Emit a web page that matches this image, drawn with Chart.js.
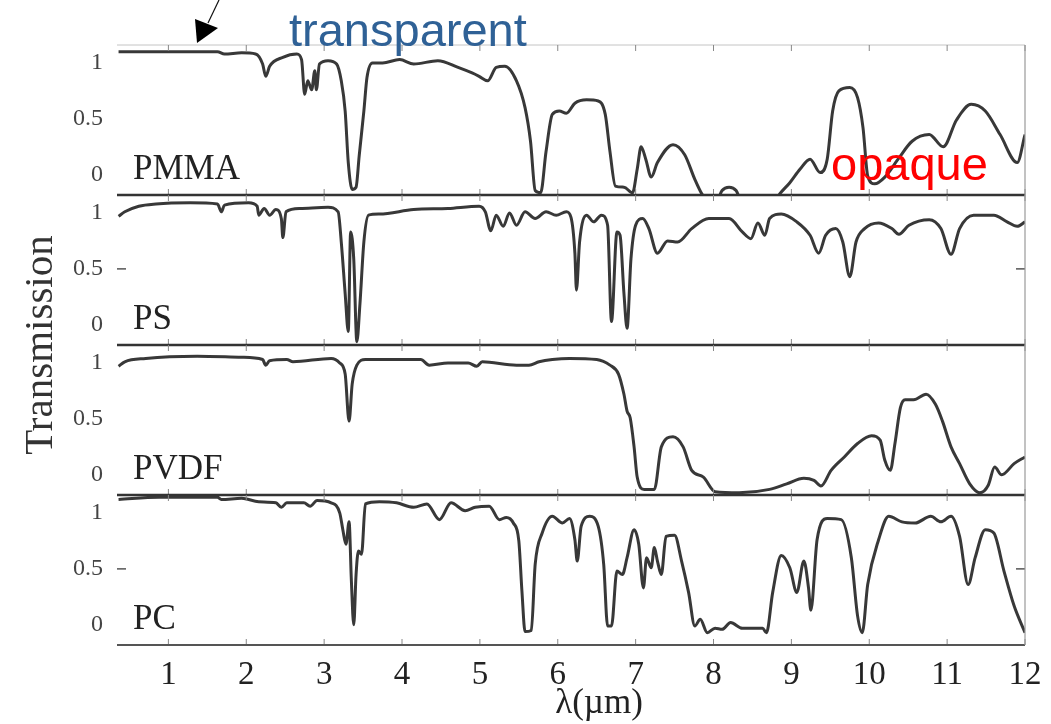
<!DOCTYPE html>
<html>
<head>
<meta charset="utf-8">
<script src="https://cdn.jsdelivr.net/npm/chart.js@4.4.1/dist/chart.umd.min.js"></script>
<style>
  html, body { margin: 0; padding: 0; background: #fff; }
</style>
</head>
<body>
<canvas id="spectraChart" width="1051" height="724"></canvas>
<script>
// wavelength (um) and transmission, one pair of arrays per polymer
var pmmaX = [0.36, 1.63, 1.72, 1.94, 2.12, 2.21, 2.25, 2.30, 2.47, 2.65, 2.71, 2.75, 2.79, 2.84, 2.88, 2.90, 2.94, 3.05, 3.16, 3.22,
  3.27, 3.31, 3.36, 3.41, 3.45, 3.51, 3.55, 3.62, 3.75, 3.97, 4.15, 4.46, 4.72, 4.90, 4.99, 5.10, 5.21, 5.32, 5.47, 5.58,
  5.65, 5.71, 5.78, 5.85, 5.93, 6.02, 6.11, 6.22, 6.37, 6.52, 6.61, 6.67, 6.74, 6.85, 6.96, 7.02, 7.07, 7.13, 7.20, 7.28,
  7.48, 7.63, 7.76, 7.85, 8.00, 8.11, 8.20, 8.29, 8.40, 8.72, 8.85, 8.98, 9.11, 9.24, 9.37, 9.46, 9.53, 9.61, 9.75, 9.85,
  9.92, 9.98, 10.07, 10.20, 10.37, 10.55, 10.77, 10.95, 11.12, 11.31, 11.49, 11.68, 11.90, 12.0];
var pmmaT = [1.10, 1.10, 1.08, 1.09, 1.08, 0.99, 0.88, 0.97, 1.05, 1.08, 1.03, 0.72, 0.84, 0.76, 0.93, 0.76, 0.99, 1.02, 0.99, 0.84,
  0.57, 0.11, -0.13, -0.11, 0.17, 0.57, 0.87, 1.00, 1.00, 1.03, 0.99, 1.02, 0.96, 0.91, 0.88, 0.84, 0.96, 0.97, 0.84, 0.60,
  0.30, -0.14, -0.16, 0.21, 0.54, 0.57, 0.55, 0.64, 0.67, 0.66, 0.54, 0.21, -0.10, -0.11, -0.16, 0.05, 0.25, 0.14, -0.02, 0.11,
  0.27, 0.18, -0.04, -0.17, -0.30, -0.14, -0.11, -0.14, -0.30, -0.30, -0.17, -0.07, 0.05, 0.14, 0.02, 0.14, 0.57, 0.75, 0.78, 0.69,
  0.42, -0.01, -0.08, -0.02, 0.14, 0.30, 0.36, 0.25, 0.49, 0.63, 0.57, 0.36, 0.11, 0.36];

var psX = [0.36, 0.44, 0.62, 0.84, 1.28, 1.63, 1.68, 1.72, 2.03, 2.14, 2.16, 2.23, 2.30, 2.38, 2.45, 2.47, 2.51, 2.69, 3.05, 3.18,
  3.22, 3.27, 3.31, 3.34, 3.38, 3.42, 3.46, 3.51, 3.57, 3.71, 4.15, 4.59, 4.99, 5.07, 5.14, 5.21, 5.30, 5.38, 5.47, 5.58,
  5.71, 5.85, 5.98, 6.11, 6.17, 6.22, 6.24, 6.28, 6.37, 6.46, 6.56, 6.64, 6.69, 6.76, 6.80, 6.85, 6.89, 6.94, 7.00, 7.09,
  7.17, 7.28, 7.41, 7.54, 7.72, 7.94, 8.20, 8.37, 8.48, 8.57, 8.66, 8.72, 8.87, 9.07, 9.24, 9.35, 9.44, 9.57, 9.66, 9.75,
  9.83, 9.94, 10.12, 10.29, 10.38, 10.51, 10.77, 10.92, 11.05, 11.16, 11.34, 11.60, 11.77, 11.90, 12.0];
var psT = [0.97, 1.01, 1.06, 1.08, 1.09, 1.08, 1.01, 1.07, 1.09, 1.06, 0.98, 1.04, 0.98, 1.03, 0.95, 0.78, 1.01, 1.04, 1.05, 1.01,
  0.74, 0.28, -0.06, 0.83, 0.59, -0.15, 0.19, 0.74, 0.98, 0.99, 1.03, 1.04, 1.06, 1.01, 0.84, 0.98, 0.88, 1.00, 0.89, 1.01,
  0.95, 1.01, 0.98, 1.01, 0.96, 0.64, 0.31, 0.74, 0.98, 0.92, 0.98, 0.89, 0.03, 0.83, 0.80, 0.28, -0.03, 0.59, 0.89, 0.95,
  0.86, 0.64, 0.75, 0.74, 0.86, 0.95, 0.95, 0.83, 0.77, 0.91, 0.80, 0.95, 0.99, 0.92, 0.80, 0.64, 0.80, 0.86, 0.74, 0.43,
  0.74, 0.86, 0.91, 0.86, 0.81, 0.89, 0.94, 0.86, 0.63, 0.86, 0.98, 0.98, 0.92, 0.88, 0.92];

var pvdfX = [0.36, 0.44, 0.71, 1.37, 1.94, 2.21, 2.25, 2.30, 2.52, 2.60, 3.09, 3.20, 3.27, 3.32, 3.36, 3.42, 3.53, 4.24, 4.35, 4.59,
  4.85, 4.96, 5.03, 5.47, 5.63, 5.76, 5.93, 6.15, 6.50, 6.67, 6.78, 6.85, 6.89, 6.93, 6.98, 7.02, 7.11, 7.24, 7.33, 7.48,
  7.61, 7.72, 7.87, 8.02, 8.33, 8.72, 8.94, 9.16, 9.29, 9.38, 9.51, 9.68, 9.85, 10.03, 10.14, 10.20, 10.27, 10.33, 10.40, 10.46,
  10.57, 10.73, 10.85, 10.94, 11.05, 11.16, 11.29, 11.42, 11.53, 11.61, 11.70, 11.86, 12.0];
var pvdfT = [0.97, 1.01, 1.04, 1.06, 1.05, 1.03, 0.98, 1.02, 1.03, 1.01, 1.04, 1.00, 0.90, 0.48, 0.81, 0.98, 1.03, 1.03, 0.98, 1.00,
  1.00, 0.97, 1.01, 0.98, 0.98, 1.01, 1.03, 1.04, 1.03, 0.98, 0.90, 0.72, 0.57, 0.51, 0.25, -0.02, -0.13, -0.13, 0.25, 0.34,
  0.25, 0.04, -0.02, -0.15, -0.16, -0.13, -0.08, -0.03, -0.05, -0.10, 0.04, 0.16, 0.28, 0.35, 0.31, 0.13, 0.04, 0.28, 0.60, 0.67,
  0.67, 0.72, 0.63, 0.48, 0.25, 0.10, -0.08, -0.16, -0.09, 0.07, 0.00, 0.10, 0.16];

var pcX = [0.36, 0.88, 1.63, 1.68, 1.94, 2.16, 2.38, 2.45, 2.52, 2.74, 2.82, 2.91, 3.09, 3.20, 3.24, 3.28, 3.32, 3.35, 3.38, 3.41,
  3.44, 3.48, 3.53, 3.71, 3.93, 4.15, 4.32, 4.48, 4.63, 4.81, 4.94, 5.12, 5.25, 5.34, 5.43, 5.50, 5.54, 5.58, 5.66, 5.71,
  5.80, 5.93, 6.06, 6.15, 6.22, 6.25, 6.30, 6.41, 6.52, 6.59, 6.64, 6.69, 6.76, 6.83, 6.89, 6.98, 7.04, 7.10, 7.14, 7.20,
  7.24, 7.28, 7.33, 7.39, 7.50, 7.59, 7.68, 7.76, 7.83, 7.92, 8.02, 8.11, 8.22, 8.37, 8.63, 8.68, 8.76, 8.87, 8.98, 9.07,
  9.16, 9.22, 9.25, 9.33, 9.46, 9.64, 9.77, 9.85, 9.91, 9.98, 10.12, 10.25, 10.42, 10.59, 10.79, 10.92, 11.05, 11.16, 11.27, 11.36,
  11.49, 11.60, 11.73, 11.86, 12.0];
var pcT = [1.12, 1.14, 1.14, 1.12, 1.13, 1.10, 1.09, 1.05, 1.09, 1.09, 1.06, 1.11, 1.09, 1.00, 0.85, 0.72, 0.92, 0.39, 0.00, 0.45,
  0.66, 0.63, 1.08, 1.10, 1.09, 1.05, 1.08, 0.94, 1.09, 1.02, 1.05, 1.06, 0.94, 0.96, 0.91, 0.75, 0.30, -0.06, -0.05, 0.54,
  0.82, 0.97, 0.91, 0.95, 0.76, 0.57, 0.88, 0.97, 0.88, 0.54, -0.01, -0.01, 0.48, 0.45, 0.60, 0.85, 0.72, 0.33, 0.60, 0.51,
  0.69, 0.57, 0.45, 0.79, 0.80, 0.57, 0.29, -0.01, 0.05, -0.07, -0.03, -0.04, 0.02, -0.03, -0.03, -0.07, 0.29, 0.62, 0.51, 0.29,
  0.57, 0.33, 0.13, 0.76, 0.95, 0.94, 0.60, 0.08, -0.07, 0.36, 0.76, 0.97, 0.92, 0.91, 0.97, 0.92, 0.97, 0.79, 0.36, 0.60,
  0.85, 0.82, 0.48, 0.17, -0.07];

var materials = ['PMMA', 'PS', 'PVDF', 'PC'];
var xTicks = [1, 2, 3, 4, 5, 6, 7, 8, 9, 10, 11, 12];
var yTicks = [0, 0.5, 1];
var dashedPanels = ['PS', 'PC']; // panels whose 0.5 tick mark is visible

var seriesX = { PMMA: pmmaX, PS: psX, PVDF: pvdfX, PC: pcX };
var seriesT = { PMMA: pmmaT, PS: psT, PVDF: pvdfT, PC: pcT };

function points(name) {
  return seriesX[name].map(function (x, i) { return { x: x, y: seriesT[name][i] }; });
}

function panelAxis() {
  return {
    type: 'linear',
    position: 'left',
    stack: 'panels',
    stackWeight: 1,
    min: -0.18,
    max: 1.16,
    afterBuildTicks: function (s) { s.ticks = yTicks.map(function (v) { return { value: v }; }); },
    afterFit: function (s) { s.width = 117; },
    grid: { display: false },
    border: { display: false },
    ticks: {
      font: { family: 'Liberation Serif', size: 24 },
      color: '#444',
      padding: 6,
      callback: function (v) { return String(v); }
    }
  };
}

// stacked axes: the last one declared ends up on top
var scales = {
  x: {
    type: 'linear',
    min: 0.34,
    max: 12,
    afterBuildTicks: function (s) { s.ticks = xTicks.map(function (v) { return { value: v }; }); },
    afterFit: function (s) { s.height = 79; },
    grid: { display: false },
    border: { display: false },
    ticks: { font: { family: 'Liberation Serif', size: 33 }, color: '#222', padding: 3, maxRotation: 0, autoSkip: false }
  }
};
materials.slice().reverse().forEach(function (m) { scales['y' + m] = panelAxis(); });

var datasets = materials.map(function (m) {
  return {
    label: m,
    data: points(m),
    yAxisID: 'y' + m,
    borderColor: '#383838',
    borderWidth: 3,
    pointRadius: 0,
    fill: false,
    cubicInterpolationMode: 'monotone'
  };
});

// keep each curve inside its own panel
var panelClip = {
  id: 'panelClip',
  beforeDatasetDraw: function (chart, args) {
    var ys = args.meta.yScale, a = chart.chartArea, ctx = chart.ctx;
    ctx.save();
    ctx.beginPath();
    ctx.rect(a.left, ys.top, a.right - a.left, ys.bottom - ys.top);
    ctx.clip();
  },
  afterDatasetDraw: function (chart) { chart.ctx.restore(); }
};

function line(ctx, x1, y1, x2, y2, color, w) {
  ctx.beginPath();
  ctx.moveTo(x1, y1);
  ctx.lineTo(x2, y2);
  ctx.strokeStyle = color;
  ctx.lineWidth = w;
  ctx.stroke();
}

var decorations = {
  id: 'decorations',
  afterDraw: function (chart) {
    var ctx = chart.ctx, a = chart.chartArea, xs = chart.scales.x;
    ctx.save();

    // panel frames
    line(ctx, a.left, a.top, a.right, a.top, '#c4c4c4', 1);
    materials.forEach(function (m, i) {
      var ys = chart.scales['y' + m];
      if (i > 0) line(ctx, a.left, ys.top, a.right, ys.top, '#333', 2.5);
      xTicks.forEach(function (t) {
        var px = xs.getPixelForValue(t);
        line(ctx, px, ys.bottom, px, ys.bottom - 6, '#888', 1);
        line(ctx, px, ys.top, px, ys.top + 6, '#888', 1);
      });
      if (dashedPanels.indexOf(m) >= 0) {
        var py = ys.getPixelForValue(0.5);
        line(ctx, a.left, py, a.left + 9, py, '#555', 1.5);
        line(ctx, a.right - 9, py, a.right, py, '#555', 1.5);
      }
    });
    line(ctx, a.left, a.bottom, a.right, a.bottom, '#555', 2);
    line(ctx, a.right, a.top, a.right, a.bottom, '#999', 1.2);

    // material names
    ctx.fillStyle = '#222';
    ctx.font = '35px "Liberation Serif"';
    ctx.textAlign = 'left';
    ctx.textBaseline = 'alphabetic';
    materials.forEach(function (m) {
      ctx.fillText(m, 133, chart.scales['y' + m].bottom - 16);
    });

    // axis titles
    ctx.save();
    ctx.translate(41, 345);
    ctx.rotate(-Math.PI / 2);
    ctx.textAlign = 'center';
    ctx.textBaseline = 'middle';
    ctx.font = '41px "Liberation Serif"';
    ctx.fillStyle = '#333';
    ctx.fillText('Transmission', 0, 0);
    ctx.restore();

    ctx.textAlign = 'center';
    ctx.font = '35px "Liberation Serif"';
    ctx.fillStyle = '#222';
    ctx.fillText('\u03bb(\u00b5m)', 599, 713);

    // annotations
    ctx.textAlign = 'left';
    ctx.font = '47px "Liberation Sans"';
    ctx.fillStyle = '#2f6196';
    ctx.fillText('transparent', 289, 46);
    ctx.fillStyle = '#ff0000';
    ctx.fillText('opaque', 831, 180);

    line(ctx, 219, 0, 208, 23, '#111', 1.2);
    ctx.beginPath();
    ctx.moveTo(197, 43);
    ctx.lineTo(195, 19);
    ctx.lineTo(218, 28);
    ctx.closePath();
    ctx.fillStyle = '#000';
    ctx.fill();

    ctx.restore();
  }
};

var ctx = document.getElementById('spectraChart').getContext('2d');
var spectraChart = new Chart(ctx, {
  type: 'line',
  data: { datasets: datasets },
  options: {
    responsive: false,
    animation: false,
    devicePixelRatio: 1,
    layout: { padding: { top: 45, right: 26, left: 0, bottom: 0 } },
    scales: scales,
    plugins: {
      legend: { display: false },
      tooltip: { enabled: false }
    }
  },
  plugins: [panelClip, decorations]
});
</script>
</body>
</html>
